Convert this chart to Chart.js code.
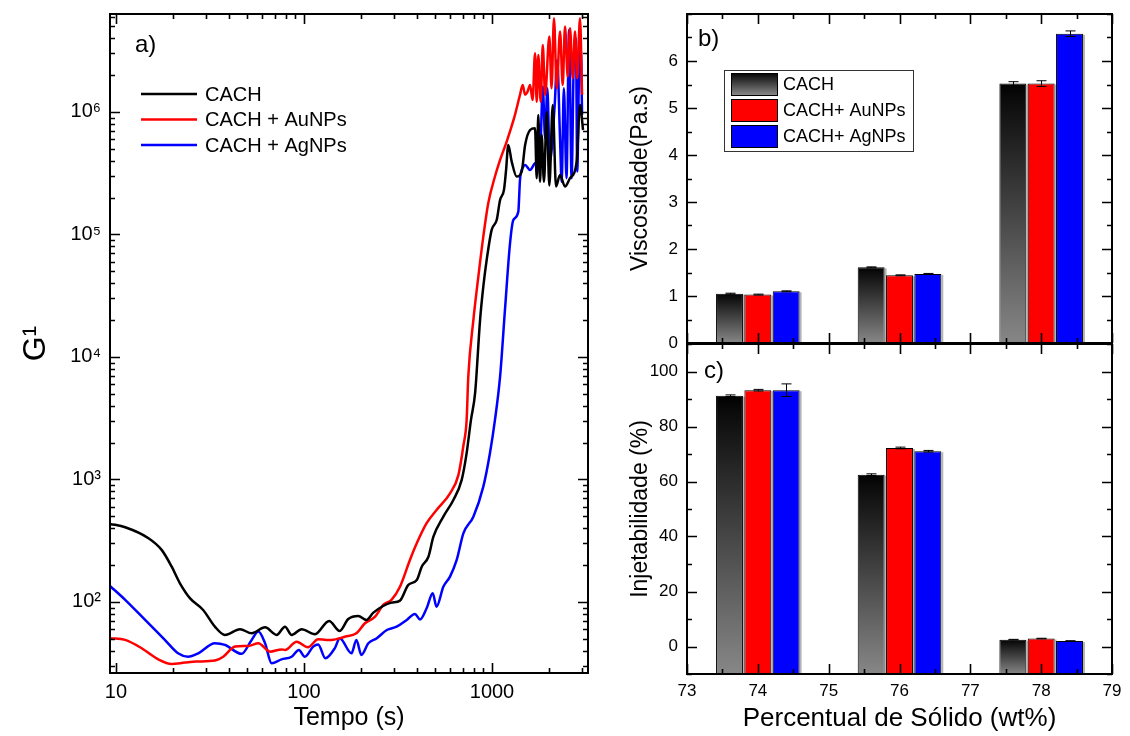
<!DOCTYPE html>
<html>
<head>
<meta charset="utf-8">
<script src="https://cdn.jsdelivr.net/npm/chart.js@4.4.1/dist/chart.umd.min.js"></script>
<style>
  body { margin: 0; background: #fff; }
  canvas { position: absolute; }
</style>
</head>
<body>
<canvas id="rheo" width="600" height="736" style="left:0;top:0"></canvas>
<canvas id="visc" width="530" height="362" style="left:600px;top:0"></canvas>
<canvas id="inj" width="530" height="393" style="left:600px;top:343px"></canvas>
<script>
// a) G' vs tempo
const tempoCach = [9.3, 11.2, 14.9, 17.5, 19.8, 21.9, 24.8, 29.1, 33.6, 38, 45.7, 52.7, 62.1, 71.6, 79.3, 86, 97.2, 114.5, 136, 155, 172, 194.5, 215, 234, 292, 324, 359, 398, 423, 459, 488, 551, 623, 690, 733, 773, 813, 864, 899, 937, 996, 1059, 1104, 1158, 1187, 1221, 1273, 1353, 1439, 1500, 1594, 1694, 1729, 1763, 1800, 1837, 1890, 1954, 2018, 2104, 2190, 2300, 2445, 2600, 2820, 2937, 3050];
const gCach = [434, 407, 331, 266, 194, 142, 107, 86, 62.8, 53.8, 59.9, 55.5, 62, 53.8, 62.8, 53.8, 59.9, 54.5, 70, 58, 72.6, 76.9, 71.3, 81.8, 98.7, 102.5, 138, 151, 194, 234, 341, 497, 680, 991, 1640, 3060, 5060, 20000, 37500, 62000, 109000, 131000, 191000, 231000, 330000, 537000, 393000, 297000, 326000, 537000, 712000, 736000, 288000, 946000, 269000, 649000, 269000, 1000000, 251000, 1140000, 246000, 306000, 246000, 288000, 393000, 1140000, 712000];

const tempoAu = [9.3, 11.2, 13.7, 16.8, 19.8, 23.3, 26.8, 33.6, 37.2, 43, 50.6, 57.2, 66, 76, 79.3, 91.4, 105, 119, 132, 140, 165, 190, 211, 239, 264, 292, 324, 366, 398, 449, 507, 598, 663, 705, 733, 748, 796, 846, 899, 955, 1037, 1104, 1197, 1325, 1409, 1456, 1500, 1541, 1594, 1644, 1694, 1729, 1763, 1815, 1862, 1917, 2018, 2074, 2136, 2210, 2300, 2377, 2445, 2527, 2600, 2687, 2763, 2840, 2937, 3013];
const gAu = [50.6, 49, 41.9, 34, 31.2, 32, 32.6, 33.2, 35.7, 43.2, 43.7, 46, 39.3, 41, 40.6, 47.4, 42.7, 49.6, 49, 49, 52, 55.5, 67, 75.9, 94.5, 104, 133, 220, 301, 439, 563, 771, 1090, 1900, 3060, 6900, 20000, 45300, 96000, 180000, 297000, 406000, 573000, 946000, 1380000, 1660000, 1380000, 1450000, 1660000, 1250000, 3010000, 1210000, 2920000, 1210000, 3520000, 1380000, 4130000, 1560000, 5820000, 1560000, 4540000, 1660000, 4990000, 1950000, 4830000, 1880000, 4540000, 1880000, 5820000, 1380000];

const tempoAg = [9.3, 11.2, 14.3, 18.2, 21.4, 24.2, 27.4, 33.6, 38, 46.6, 52.7, 57.2, 62.1, 67.3, 76, 86, 94, 101, 112, 119, 130, 146, 155, 179, 190, 202, 220, 244, 276, 311, 352, 389, 414, 449, 484, 507, 551, 598, 649, 705, 796, 899, 975, 1037, 1104, 1172, 1247, 1298, 1380, 1409, 1466, 1500, 1594, 1694, 1800, 1862, 1917, 1969, 2030, 2155, 2222, 2300, 2347, 2411, 2490, 2570, 2650, 2726, 2795, 2840, 2908, 2970, 3013];
const gAg = [135, 104, 71.3, 49, 38.1, 35.7, 38.1, 46, 44.6, 37.7, 49, 57.3, 46, 31.6, 34, 35.7, 40.6, 35.7, 43.2, 45, 34.7, 42, 50.6, 38.1, 49, 36.9, 46, 50.6, 59, 62.8, 71.3, 79.8, 72, 88.8, 118, 91.5, 133, 161, 220, 364, 497, 873, 1637, 3060, 6900, 24200, 84700, 131000, 153000, 279000, 357000, 369000, 336000, 381000, 432000, 1610000, 609000, 1560000, 393000, 1140000, 2650000, 609000, 269000, 1560000, 288000, 4680000, 288000, 2920000, 3980000, 326000, 2420000, 3300000, 946000];

const tempoTicks = [10, 100, 1000];
const gTicks = [1e2, 1e3, 1e4, 1e5, 1e6];
const gTickLabels = ['10²', '10³', '10⁴', '10⁵', '10⁶'];

// b) and c) bars
const series = ['CACH', 'CACH+ AuNPs', 'CACH+ AgNPs'];
const solidos = [74, 76, 78];
const solidoTicks = [73, 74, 75, 76, 77, 78, 79];

const viscCach = [1.05, 1.61, 5.52];
const viscAu = [1.03, 1.44, 5.52];
const viscAg = [1.10, 1.47, 6.58];
const viscCachErr = [0.01, 0.01, 0.04];
const viscAuErr = [0.01, 0.01, 0.06];
const viscAgErr = [0.01, 0.01, 0.06];
const viscTicks = [0, 1, 2, 3, 4, 5, 6];

const injCach = [91.2, 62.5, 2.5];
const injAu = [93.2, 72.2, 2.9];
const injAg = [93.2, 71.0, 2.0];
const injCachErr = [0.3, 0.3, 0.1];
const injAuErr = [0.3, 0.3, 0.1];
const injAgErr = [2.3, 0.3, 0.1];
const injTicks = [0, 20, 40, 60, 80, 100];

const FONT = '"Liberation Sans", Arial, sans-serif';
Chart.defaults.font.family = FONT;
Chart.defaults.color = '#000';

const pts = (xs, ys) => xs.map((v, i) => ({ x: v, y: ys[i] }));

function logTicks(scale, decades) {
    const out = [];
    decades.forEach(d => {
        for (let m = 1; m <= 9; m++) {
            const v = m * d;
            if (v >= scale.min && v <= scale.max) out.push({ value: v, minor: m !== 1 });
        }
    });
    scale.ticks = out;
}

function noPad(scale) {
    scale.paddingLeft = 0; scale.paddingRight = 0;
    scale.paddingTop = 0; scale.paddingBottom = 0;
}

// box with inward ticks on all four sides
const frame = {
    id: 'frame',
    afterDatasetsDraw(chart, args, opts) {
        const { ctx, chartArea: a } = chart;
        ctx.save();
        ctx.strokeStyle = '#000';
        ['x', 'y'].forEach(id => {
            const s = chart.scales[id];
            const marks = s.ticks.map(t => ({ v: t.value, len: t.minor ? 5 : 10 }));
            const step = opts[id + 'Minor'];
            if (step) {
                for (let v = Math.ceil(s.min / step) * step; v <= s.max + 1e-9; v += step) {
                    if (!s.ticks.some(t => Math.abs(t.value - v) < 1e-6)) marks.push({ v, len: 5 });
                }
            }
            ctx.lineWidth = 1.6;
            marks.forEach(m => {
                const p = Math.round(s.getPixelForValue(m.v)) + 0.5;
                ctx.beginPath();
                if (id === 'x') {
                    ctx.moveTo(p, a.bottom); ctx.lineTo(p, a.bottom - m.len);
                    ctx.moveTo(p, a.top); ctx.lineTo(p, a.top + m.len);
                } else {
                    ctx.moveTo(a.left, p); ctx.lineTo(a.left + m.len, p);
                    ctx.moveTo(a.right, p); ctx.lineTo(a.right - m.len, p);
                }
                ctx.stroke();
            });
        });
        ctx.lineWidth = 2;
        ctx.strokeRect(a.left, a.top, a.right - a.left, a.bottom - a.top);
        ctx.restore();
    }
};

const panelTag = {
    id: 'panelTag',
    afterDraw(chart, args, opts) {
        const { ctx, chartArea: a } = chart;
        ctx.save();
        ctx.font = opts.size + 'px ' + FONT;
        ctx.textBaseline = 'middle';
        ctx.fillStyle = '#000';
        ctx.fillText(opts.text, a.left + opts.dx, a.top + opts.dy);
        ctx.restore();
    }
};

const lineLegend = {
    id: 'lineLegend',
    afterDatasetsDraw(chart) {
        const { ctx, chartArea: a } = chart;
        ctx.save();
        ctx.font = '20px ' + FONT;
        ctx.textBaseline = 'middle';
        chart.data.datasets.forEach((ds, i) => {
            const y = a.top + 80 + i * 25.5;
            ctx.strokeStyle = ds.borderColor;
            ctx.lineWidth = 2.5;
            ctx.beginPath();
            ctx.moveTo(a.left + 31, y);
            ctx.lineTo(a.left + 87, y);
            ctx.stroke();
            ctx.fillStyle = '#000';
            ctx.fillText(ds.label, a.left + 95, y + 1);
        });
        ctx.restore();
    }
};

// light grey edge on the right of every bar, as in the original
const barShade = {
    id: 'barShade',
    beforeDatasetsDraw(chart) {
        const { ctx } = chart;
        ctx.save();
        ctx.fillStyle = '#b4b4b4';
        chart.data.datasets.forEach((ds, i) => {
            chart.getDatasetMeta(i).data.forEach(bar => {
                const h = bar.base - bar.y;
                ctx.fillRect(bar.x + bar.width / 2, bar.y + 1, 2, h - 1);
            });
        });
        ctx.restore();
    }
};

const errorBars = {
    id: 'errorBars',
    afterDatasetsDraw(chart) {
        const { ctx } = chart;
        const y = chart.scales.y;
        ctx.save();
        ctx.strokeStyle = '#000';
        ctx.lineWidth = 1;
        chart.data.datasets.forEach((ds, i) => {
            chart.getDatasetMeta(i).data.forEach((bar, j) => {
                const v = ds.data[j].y, e = ds.errors[j];
                const y1 = y.getPixelForValue(v - e), y2 = y.getPixelForValue(v + e);
                const x = Math.round(bar.x) + 0.5;
                ctx.beginPath();
                ctx.moveTo(x, y1); ctx.lineTo(x, y2);
                ctx.moveTo(x - 5, y1); ctx.lineTo(x + 5, y1);
                ctx.moveTo(x - 5, y2); ctx.lineTo(x + 5, y2);
                ctx.stroke();
            });
        });
        ctx.restore();
    }
};

function grayGrad(c, top, bottom) {
    const g = c.createLinearGradient(0, top, 0, bottom);
    g.addColorStop(0, '#000');
    g.addColorStop(0.05, '#0a0a0a');
    g.addColorStop(1, '#878787');
    return g;
}

function cachFill(context) {
    const chart = context.chart;
    if (!chart.chartArea || context.type !== 'data') return '#555';
    const y = chart.scales.y;
    return grayGrad(chart.ctx, y.getPixelForValue(context.raw.y), y.getPixelForValue(y.min));
}

const barLegend = {
    id: 'barLegend',
    afterDraw(chart, args, opts) {
        if (!opts.show) return;
        const { ctx, chartArea: a } = chart;
        const x0 = a.left + 37, y0 = a.top + 56;
        ctx.save();
        ctx.fillStyle = '#fff';
        ctx.fillRect(x0, y0, 189, 81);
        ctx.strokeStyle = '#333';
        ctx.lineWidth = 1;
        ctx.strokeRect(x0 + 0.5, y0 + 0.5, 189, 81);
        ctx.font = '18px ' + FONT;
        ctx.textBaseline = 'middle';
        chart.data.datasets.forEach((ds, i) => {
            const sy = y0 + 3 + i * 26;
            ctx.fillStyle = i === 0 ? grayGrad(ctx, sy, sy + 22) : ds.backgroundColor;
            ctx.fillRect(x0 + 7, sy, 46, 22);
            ctx.strokeStyle = '#000';
            ctx.strokeRect(x0 + 7.5, sy + 0.5, 46, 22);
            ctx.fillStyle = '#000';
            ctx.fillText(ds.label, x0 + 59, sy + 12);
        });
        ctx.restore();
    }
};

// a)
new Chart(document.getElementById('rheo'), {
    type: 'line',
    data: {
        datasets: [
            { label: 'CACH', data: pts(tempoCach, gCach), borderColor: '#000000' },
            { label: 'CACH + AuNPs', data: pts(tempoAu, gAu), borderColor: '#ff0000' },
            { label: 'CACH + AgNPs', data: pts(tempoAg, gAg), borderColor: '#0000ff' }
        ]
    },
    options: {
        responsive: false,
        animation: false,
        events: [],
        layout: { padding: { top: 14, right: 12, left: 0, bottom: 0 } },
        elements: {
            point: { radius: 0 },
            line: { borderWidth: 2.5, cubicInterpolationMode: 'monotone' }
        },
        plugins: {
            legend: { display: false },
            tooltip: { enabled: false },
            frame: {},
            panelTag: { text: 'a)', dx: 25, dy: 31, size: 24 }
        },
        scales: {
            x: {
                type: 'logarithmic', min: 9.3, max: 3240,
                grid: { display: false, drawTicks: false }, border: { display: false },
                afterBuildTicks: s => logTicks(s, tempoTicks),
                afterFit: s => { s.height = 63; noPad(s); },
                ticks: {
                    autoSkip: false, maxRotation: 0, padding: 7, font: { size: 20 },
                    callback: (v, i, t) => t[i].minor ? '' : String(v)
                },
                title: { display: true, text: 'Tempo (s)', font: { size: 25 }, padding: { top: 0, bottom: 3 } }
            },
            y: {
                type: 'logarithmic', min: 26.3, max: 6.3e6,
                grid: { display: false, drawTicks: false }, border: { display: false },
                afterBuildTicks: s => logTicks(s, [10, ...gTicks]),
                afterFit: s => { s.width = 110; noPad(s); },
                ticks: {
                    autoSkip: false, padding: 9, font: { size: 20 },
                    callback: (v, i, t) => {
                        const k = gTicks.indexOf(v);
                        return t[i].minor || k < 0 ? '' : gTickLabels[k];
                    }
                },
                title: { display: true, text: 'G¹', font: { size: 32 }, padding: { top: 17, bottom: 0 } }
            }
        }
    },
    plugins: [frame, lineLegend, panelTag]
});

function barChart(canvasId, cfg) {
    const ds = (i, vals, errs, color) => ({
        label: series[i],
        data: pts(solidos, vals),
        errors: errs,
        backgroundColor: color,
        borderColor: '#000',
        borderWidth: 1,
        base: cfg.min,
        categoryPercentage: 1.2,
        barPercentage: 0.95
    });
    return new Chart(document.getElementById(canvasId), {
        type: 'bar',
        data: {
            datasets: [
                ds(0, cfg.vals[0], cfg.errs[0], cachFill),
                ds(1, cfg.vals[1], cfg.errs[1], '#ff0000'),
                ds(2, cfg.vals[2], cfg.errs[2], '#0000ff')
            ]
        },
        options: {
            responsive: false,
            animation: false,
            events: [],
            layout: { padding: { top: cfg.top, right: 18, left: 0, bottom: 0 } },
            plugins: {
                legend: { display: false },
                tooltip: { enabled: false },
                frame: { xMinor: 0.5, yMinor: cfg.minor },
                panelTag: cfg.tag,
                barLegend: { show: cfg.legend }
            },
            scales: {
                x: {
                    type: 'linear', min: 73, max: 79, offset: false,
                    grid: { display: false, drawTicks: false }, border: { display: false },
                    afterBuildTicks: s => { s.ticks = solidoTicks.map(v => ({ value: v })); },
                    afterFit: s => { s.height = cfg.xHeight; noPad(s); },
                    ticks: { display: cfg.xLabels, autoSkip: false, maxRotation: 0, padding: 7, font: { size: 17 } },
                    title: {
                        display: cfg.xLabels, text: 'Percentual de Sólido (wt%)',
                        font: { size: 26 }, padding: { top: 0, bottom: 2 }
                    }
                },
                y: {
                    min: cfg.min, max: cfg.max,
                    grid: { display: false, drawTicks: false }, border: { display: false },
                    afterBuildTicks: s => { s.ticks = cfg.ticks.map(v => ({ value: v })); },
                    afterFit: s => { s.width = 87; noPad(s); },
                    ticks: { autoSkip: false, padding: 9, font: { size: 17 } },
                    title: { display: true, text: cfg.title, font: { size: 23 }, padding: { top: 27, bottom: 0 } }
                }
            }
        },
        plugins: [barShade, frame, errorBars, barLegend, panelTag]
    });
}

barChart('visc', {
    vals: [viscCach, viscAu, viscAg],
    errs: [viscCachErr, viscAuErr, viscAgErr],
    min: 0, max: 7, minor: 0.5, ticks: viscTicks,
    title: 'Viscosidade(Pa.s)',
    top: 14, xHeight: 19, xLabels: false, legend: true,
    tag: { text: 'b)', dx: 11, dy: 25, size: 24 }
});

barChart('inj', {
    vals: [injCach, injAu, injAg],
    errs: [injCachErr, injAuErr, injAgErr],
    min: -10, max: 110, minor: 10, ticks: injTicks,
    title: 'Injetabilidade (%)',
    top: 1, xHeight: 62, xLabels: true, legend: false,
    tag: { text: 'c)', dx: 17, dy: 27, size: 24 }
});
</script>
</body>
</html>
